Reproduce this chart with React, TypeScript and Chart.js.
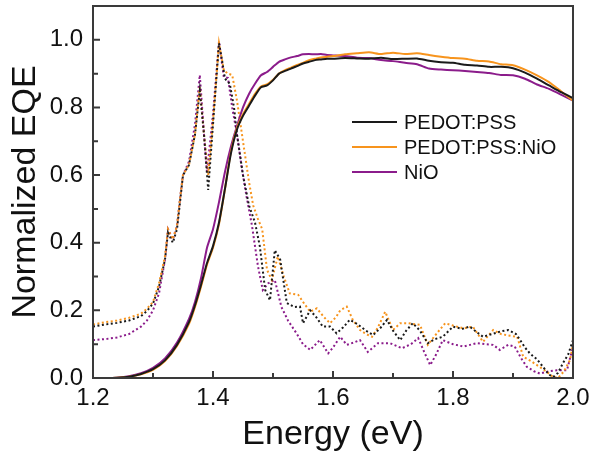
import React, { useEffect, useRef } from "react";
import { Chart, registerables } from "chart.js";

Chart.register(...registerables);

// ---- data ----
const seriesNames = ["PEDOT:PSS", "PEDOT:PSS:NiO", "NiO"];
const seriesColors = ["#1a1a1a", "#f7941d", "#8b1c8b"];

const xTickValues = [1.2, 1.4, 1.6, 1.8, 2.0];
const xMinorTickValues = [1.3, 1.5, 1.7, 1.9];
const yTickValues = [0.0, 0.2, 0.4, 0.6, 0.8, 1.0];
const yMinorTickValues = [0.1, 0.3, 0.5, 0.7, 0.9];

// EQE (solid) – shared energy grid
const eqeEnergy = [1.20, 1.22, 1.24, 1.26, 1.28, 1.30, 1.32, 1.34, 1.36, 1.37, 1.38, 1.39, 1.40, 1.41, 1.42, 1.43, 1.44, 1.45, 1.46, 1.47, 1.48, 1.49, 1.50, 1.51, 1.52, 1.53, 1.54, 1.55, 1.56, 1.57, 1.58, 1.59, 1.60, 1.62, 1.64, 1.66, 1.68, 1.70, 1.72, 1.74, 1.76, 1.78, 1.80, 1.82, 1.84, 1.86, 1.88, 1.90, 1.92, 1.94, 1.96, 1.98, 2.00];
const eqePedot = [0, 0, 0.001, 0.004, 0.012, 0.026, 0.052, 0.098, 0.165, 0.215, 0.275, 0.34, 0.39, 0.46, 0.56, 0.665, 0.735, 0.775, 0.805, 0.835, 0.86, 0.865, 0.88, 0.9, 0.908, 0.915, 0.922, 0.93, 0.935, 0.94, 0.942, 0.944, 0.944, 0.946, 0.945, 0.944, 0.947, 0.943, 0.944, 0.945, 0.938, 0.934, 0.932, 0.926, 0.924, 0.92, 0.92, 0.916, 0.903, 0.885, 0.865, 0.845, 0.828];
const eqePedotNio = [0, 0, 0.001, 0.004, 0.011, 0.024, 0.05, 0.095, 0.16, 0.21, 0.27, 0.335, 0.385, 0.455, 0.56, 0.67, 0.74, 0.78, 0.81, 0.84, 0.862, 0.868, 0.882, 0.9, 0.91, 0.918, 0.926, 0.932, 0.94, 0.944, 0.948, 0.95, 0.952, 0.957, 0.96, 0.963, 0.958, 0.962, 0.958, 0.96, 0.955, 0.95, 0.946, 0.944, 0.938, 0.936, 0.928, 0.925, 0.912, 0.895, 0.875, 0.848, 0.82];
const eqeNio = [0, 0, 0.001, 0.005, 0.014, 0.03, 0.058, 0.105, 0.175, 0.225, 0.295, 0.385, 0.44, 0.52, 0.61, 0.685, 0.745, 0.8, 0.84, 0.87, 0.895, 0.905, 0.92, 0.935, 0.942, 0.948, 0.952, 0.957, 0.958, 0.957, 0.958, 0.955, 0.954, 0.952, 0.947, 0.946, 0.94, 0.937, 0.932, 0.928, 0.915, 0.912, 0.91, 0.908, 0.905, 0.902, 0.896, 0.895, 0.885, 0.868, 0.855, 0.838, 0.82];

// dotted series
const dotPedotE = [1.20, 1.22, 1.24, 1.26, 1.28, 1.29, 1.30, 1.31, 1.32, 1.325, 1.333, 1.34, 1.345, 1.35, 1.36, 1.37, 1.378, 1.385, 1.392, 1.40, 1.41, 1.415, 1.42, 1.428, 1.435, 1.44, 1.45, 1.46, 1.47, 1.478, 1.487, 1.495, 1.503, 1.512, 1.523, 1.535, 1.545, 1.55, 1.562, 1.572, 1.583, 1.595, 1.606, 1.617, 1.628, 1.64, 1.655, 1.667, 1.68, 1.69, 1.70, 1.712, 1.722, 1.733, 1.745, 1.758, 1.77, 1.783, 1.80, 1.815, 1.828, 1.84, 1.85, 1.865, 1.88, 1.892, 1.905, 1.912, 1.92, 1.928, 1.94, 1.95, 1.96, 1.967, 1.975, 1.983, 1.992, 2.00];
const dotPedotV = [0.152, 0.158, 0.163, 0.17, 0.183, 0.198, 0.22, 0.27, 0.35, 0.43, 0.40, 0.44, 0.52, 0.60, 0.63, 0.72, 0.85, 0.72, 0.556, 0.75, 0.99, 0.94, 0.885, 0.87, 0.80, 0.72, 0.60, 0.51, 0.46, 0.39, 0.26, 0.23, 0.378, 0.35, 0.222, 0.21, 0.211, 0.162, 0.20, 0.18, 0.152, 0.152, 0.132, 0.15, 0.172, 0.16, 0.14, 0.127, 0.15, 0.172, 0.14, 0.112, 0.14, 0.162, 0.14, 0.103, 0.115, 0.122, 0.152, 0.145, 0.152, 0.135, 0.122, 0.13, 0.138, 0.142, 0.13, 0.112, 0.09, 0.073, 0.055, 0.033, 0.01, 0.003, 0.015, 0.043, 0.07, 0.112];
const dotPedotNioE = [1.20, 1.22, 1.24, 1.26, 1.28, 1.29, 1.30, 1.31, 1.32, 1.325, 1.333, 1.34, 1.345, 1.35, 1.36, 1.37, 1.378, 1.385, 1.392, 1.40, 1.41, 1.418, 1.425, 1.432, 1.44, 1.45, 1.46, 1.467, 1.475, 1.482, 1.49, 1.498, 1.508, 1.518, 1.528, 1.542, 1.552, 1.562, 1.573, 1.585, 1.595, 1.605, 1.612, 1.623, 1.633, 1.645, 1.655, 1.665, 1.675, 1.687, 1.70, 1.712, 1.725, 1.745, 1.758, 1.772, 1.787, 1.80, 1.817, 1.833, 1.85, 1.867, 1.88, 1.895, 1.907, 1.917, 1.93, 1.94, 1.955, 1.967, 1.975, 1.985, 1.995, 2.00];
const dotPedotNioV = [0.158, 0.165, 0.17, 0.178, 0.19, 0.205, 0.225, 0.28, 0.36, 0.44, 0.41, 0.45, 0.53, 0.60, 0.63, 0.72, 0.86, 0.72, 0.60, 0.76, 0.99, 0.91, 0.90, 0.896, 0.82, 0.70, 0.58, 0.51, 0.47, 0.44, 0.32, 0.29, 0.359, 0.30, 0.25, 0.246, 0.22, 0.196, 0.206, 0.18, 0.162, 0.18, 0.20, 0.211, 0.172, 0.142, 0.13, 0.122, 0.15, 0.196, 0.142, 0.162, 0.162, 0.157, 0.098, 0.13, 0.162, 0.155, 0.147, 0.152, 0.107, 0.142, 0.13, 0.125, 0.122, 0.063, 0.05, 0.038, 0.02, 0.003, 0.0, 0.02, 0.053, 0.10];
const dotNioE = [1.20, 1.22, 1.24, 1.26, 1.28, 1.29, 1.30, 1.31, 1.32, 1.325, 1.333, 1.34, 1.345, 1.35, 1.36, 1.37, 1.378, 1.385, 1.39, 1.40, 1.41, 1.418, 1.425, 1.432, 1.44, 1.448, 1.456, 1.465, 1.475, 1.483, 1.492, 1.503, 1.514, 1.525, 1.54, 1.55, 1.562, 1.578, 1.592, 1.60, 1.612, 1.623, 1.635, 1.645, 1.658, 1.675, 1.695, 1.715, 1.73, 1.742, 1.753, 1.762, 1.772, 1.783, 1.80, 1.817, 1.84, 1.855, 1.867, 1.878, 1.892, 1.903, 1.913, 1.923, 1.935, 1.945, 1.96, 1.973, 1.99, 2.00];
const dotNioV = [0.112, 0.115, 0.12, 0.13, 0.152, 0.17, 0.2, 0.25, 0.35, 0.44, 0.41, 0.45, 0.53, 0.60, 0.64, 0.75, 0.896, 0.72, 0.61, 0.78, 0.995, 0.89, 0.887, 0.80, 0.72, 0.62, 0.536, 0.45, 0.33, 0.26, 0.28, 0.29, 0.21, 0.17, 0.13, 0.10, 0.083, 0.112, 0.073, 0.09, 0.122, 0.098, 0.105, 0.112, 0.077, 0.103, 0.103, 0.088, 0.10, 0.118, 0.073, 0.038, 0.07, 0.112, 0.10, 0.093, 0.103, 0.10, 0.098, 0.083, 0.098, 0.093, 0.06, 0.033, 0.02, 0.013, 0.02, 0.023, 0.023, 0.093];

const FONT = "'Liberation Sans', Arial, sans-serif";

const pts = (xs: number[], ys: number[]) => xs.map((x, i) => ({ x, y: ys[i] }));

const framePlugin = {
  id: "frameTicks",
  afterDatasetsDraw(chart: any) {
    const { ctx, chartArea, scales } = chart;
    const { left, right, top, bottom } = chartArea;
    const x = scales.x;
    const y = scales.y;
    ctx.save();
    ctx.strokeStyle = "#3a3a3a";
    ctx.lineWidth = 2;
    ctx.beginPath();
    const tick = (vals: number[], len: number) => {
      vals.forEach((v) => {
        const px = x.getPixelForValue(v);
        ctx.moveTo(px, bottom);
        ctx.lineTo(px, bottom - len);
      });
    };
    const ytick = (vals: number[], len: number) => {
      vals.forEach((v) => {
        const py = y.getPixelForValue(v);
        ctx.moveTo(left, py);
        ctx.lineTo(left + len, py);
      });
    };
    tick(xTickValues, 7);
    tick(xMinorTickValues, 5);
    ytick(yTickValues, 7);
    ytick(yMinorTickValues, 5);
    ctx.stroke();
    ctx.strokeRect(left, top, right - left, bottom - top);
    ctx.restore();
  },
};

const legendPlugin = {
  id: "insideLegend",
  afterDraw(chart: any) {
    const { ctx } = chart;
    ctx.save();
    ctx.font = `20px ${FONT}`;
    ctx.textBaseline = "middle";
    ctx.textAlign = "left";
    seriesNames.forEach((name, i) => {
      const yy = 122 + i * 25;
      ctx.strokeStyle = seriesColors[i];
      ctx.lineWidth = 2;
      ctx.beginPath();
      ctx.moveTo(352, yy);
      ctx.lineTo(397, yy);
      ctx.stroke();
      ctx.fillStyle = "#111";
      ctx.fillText(name, 404, yy + 1);
    });
    ctx.restore();
  },
};

export default function App() {
  const ref = useRef<HTMLCanvasElement | null>(null);
  useEffect(() => {
    if (!ref.current) return;
    const solid = [eqePedot, eqePedotNio, eqeNio].map((vals, i) => ({
      label: seriesNames[i],
      data: pts(eqeEnergy, vals),
      borderColor: seriesColors[i],
      borderWidth: 2,
      pointRadius: 0,
      tension: 0.2,
      fill: false,
    }));
    const dotted = [
      [dotPedotE, dotPedotV],
      [dotPedotNioE, dotPedotNioV],
      [dotNioE, dotNioV],
    ].map(([xs, ys], i) => ({
      label: seriesNames[i] + " (dotted)",
      data: pts(xs, ys),
      borderColor: seriesColors[i],
      borderWidth: 2,
      borderDash: [2, 2.5],
      pointRadius: 0,
      tension: 0,
      fill: false,
    }));
    const chart = new Chart(ref.current, {
      type: "line",
      data: { datasets: [...solid, ...dotted] as any },
      options: {
        responsive: false,
        animation: false,
        devicePixelRatio: 1,
        layout: { padding: { top: 6, right: 20, bottom: 0, left: 0 } },
        plugins: { legend: { display: false }, tooltip: { enabled: false } },
        scales: {
          x: {
            type: "linear",
            min: 1.2,
            max: 2.0,
            afterBuildTicks: (s: any) => {
              s.ticks = xTickValues.map((v) => ({ value: v }));
            },
            afterFit: (s: any) => {
              s.height = 77;
              s.paddingLeft = 0;
              s.paddingRight = 0;
            },
            ticks: {
              callback: (v: any) => Number(v).toFixed(1),
              font: { family: FONT, size: 24 },
              color: "#111",
              padding: 6,
              maxRotation: 0,
              autoSkip: false,
            },
            grid: { display: false, drawTicks: false },
            border: { display: false },
            title: {
              display: true,
              text: "Energy (eV)",
              font: { family: FONT, size: 34 },
              color: "#111",
              padding: { top: 0, bottom: 0 },
            },
          },
          y: {
            type: "linear",
            min: 0,
            max: 1.1,
            afterBuildTicks: (s: any) => {
              s.ticks = yTickValues.map((v) => ({ value: v }));
            },
            afterFit: (s: any) => {
              s.width = 93;
              s.paddingTop = 0;
              s.paddingBottom = 0;
            },
            ticks: {
              callback: (v: any) => Number(v).toFixed(1),
              font: { family: FONT, size: 24 },
              color: "#111",
              padding: 10,
              autoSkip: false,
            },
            grid: { display: false, drawTicks: false },
            border: { display: false },
            title: {
              display: true,
              text: "Normalized EQE",
              font: { family: FONT, size: 34 },
              color: "#111",
              padding: { top: 5, bottom: 0 },
            },
          },
        },
      },
      plugins: [framePlugin, legendPlugin],
    });
    return () => chart.destroy();
  }, []);
  return (
    <div style={{ position: "fixed", left: 0, top: 0, width: 593, height: 455, background: "#fff" }}>
      <canvas ref={ref} width={593} height={455} style={{ display: "block" }} />
    </div>
  );
}
